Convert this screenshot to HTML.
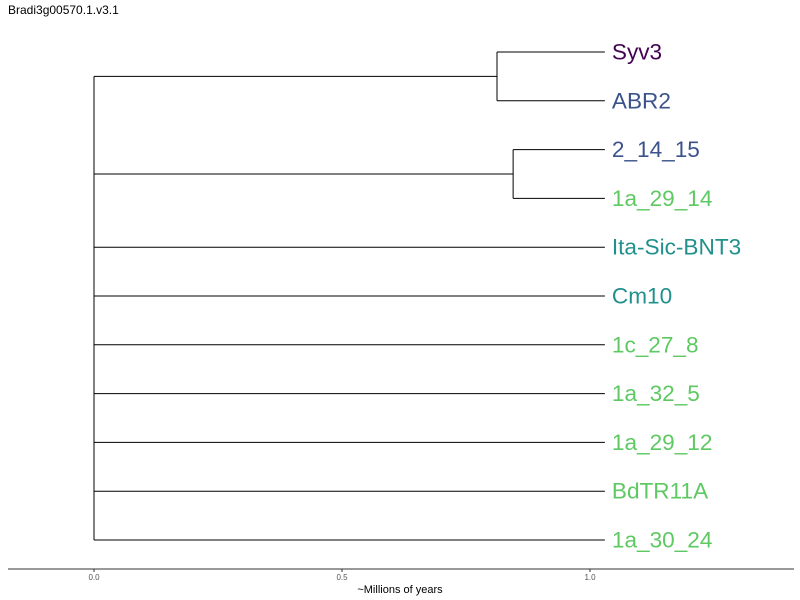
<!DOCTYPE html>
<html><head><meta charset="utf-8"><style>
body{margin:0;background:#fff;}
svg{display:block;font-family:"Liberation Sans",sans-serif;}
</style></head><body>
<svg id="chart" width="800" height="600" viewBox="0 0 800 600" xmlns="http://www.w3.org/2000/svg">
<text x="8" y="14" font-size="12" fill="#000">Bradi3g00570.1.v3.1</text>
<g id="tree"></g>
<g id="axis"></g>
<text x="400" y="593" font-size="11" text-anchor="middle" fill="#000">~Millions of years</text>
</svg>
<script>
const leaves = ["Syv3","ABR2","2_14_15","1a_29_14","Ita-Sic-BNT3","Cm10","1c_27_8","1a_32_5","1a_29_12","BdTR11A","1a_30_24"];
const leafColors = ["#440154","#3b528b","#3b528b","#5ec962","#21908d","#21908d","#5ec962","#5ec962","#5ec962","#5ec962","#5ec962"];
const tipDepth = 1.03;
// internal clades: [first leaf index, last leaf index, node depth]
const clades = [[0,1,0.8125],[2,3,0.845]];
const tickValues = [0,0.5,1.0];
const tickLabels = ["0.0","0.5","1.0"];

const NS="http://www.w3.org/2000/svg";
const xs = v => 94 + v*496;
const ys = i => 52 + i*48.8;
const tree=document.getElementById('tree'), axis=document.getElementById('axis');
function line(p,x1,y1,x2,y2,c,name){const l=document.createElementNS(NS,'line');
l.setAttribute('x1',x1);l.setAttribute('y1',y1);l.setAttribute('x2',x2);l.setAttribute('y2',y2);
l.setAttribute('stroke',c);l.setAttribute('stroke-width',1);


p.appendChild(l);return l;}
const rootChildren=[];
const inClade=new Set();
clades.forEach(c=>{const y1=ys(c[0]),y2=ys(c[1]),xn=xs(c[2]);
 line(tree,xn,y1,xn,y2,'#000','clade-vertical');
 for(let i=c[0];i<=c[1];i++){inClade.add(i);line(tree,xn,ys(i),xs(tipDepth),ys(i),'#000','leaf-branch');}
 const ym=(y1+y2)/2; line(tree,xs(0),ym,xn,ym,'#000','clade-branch'); rootChildren.push(ym);});
leaves.forEach((n,i)=>{if(!inClade.has(i)){line(tree,xs(0),ys(i),xs(tipDepth),ys(i),'#000','leaf-branch');rootChildren.push(ys(i));}});
line(tree,xs(0),Math.min(...rootChildren),xs(0),Math.max(...rootChildren),'#000','root-vertical');
leaves.forEach((n,i)=>{const t=document.createElementNS(NS,'text');
 t.setAttribute('x',xs(tipDepth)+7);t.setAttribute('y',ys(i)+7.5);t.setAttribute('font-size','22.6');t.setAttribute('fill',leafColors[i]);
 t.textContent=n;
 
 
 tree.appendChild(t);});
line(axis,8,569,794,569,'#333','x-axis-line');
tickValues.forEach((v,i)=>{line(axis,xs(v),569,xs(v),572,'#333','x-tick');
 const t=document.createElementNS(NS,'text');t.setAttribute('x',xs(v));t.setAttribute('y',580);
 t.setAttribute('font-size','8');t.setAttribute('fill','#555');t.setAttribute('text-anchor','middle');t.textContent=tickLabels[i];
 
 
 axis.appendChild(t);});
</script>
</body></html>
